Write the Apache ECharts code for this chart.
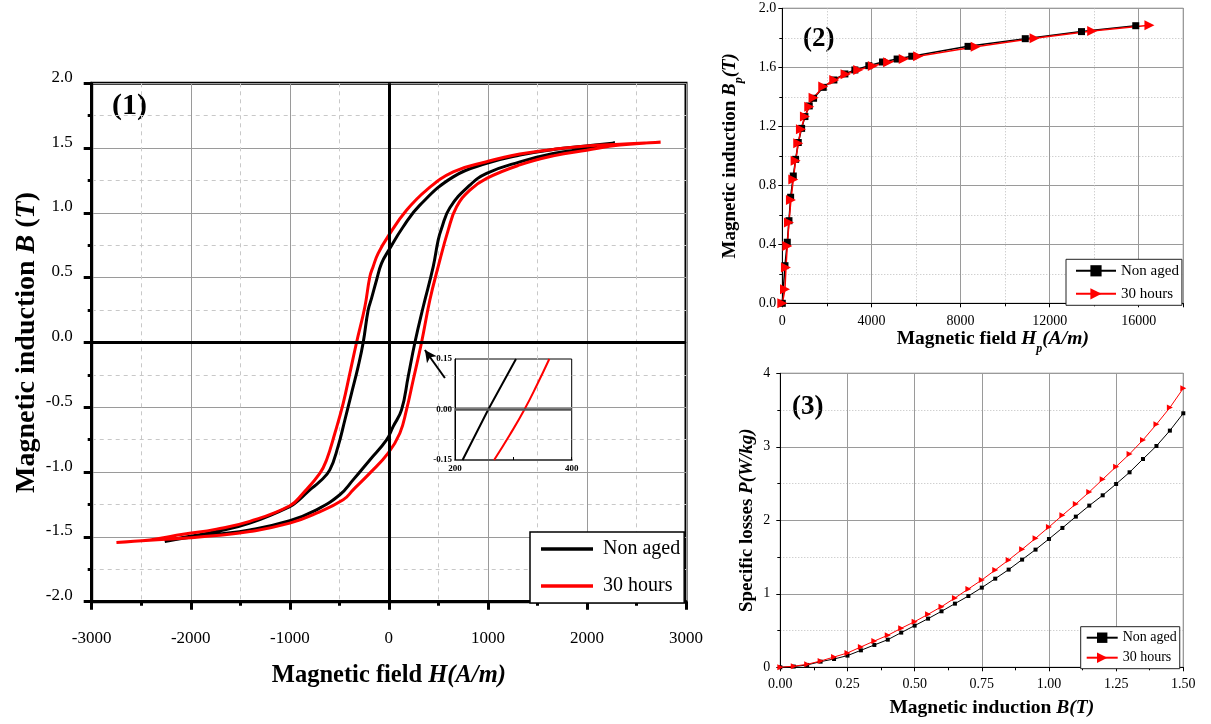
<!DOCTYPE html>
<html>
<head>
<meta charset="utf-8">
<script src="https://cdn.jsdelivr.net/npm/echarts@6/dist/echarts.min.js"></script>
<style>
html,body{margin:0;padding:0;background:#fff;}
#c{width:1211px;height:724px;}
</style>
</head>
<body>
<div id="c"></div>
<script>
// ---------- Panel (1): hysteresis loops ----------
const nonAgedUpperH = [2283, 1997, 1660, 1323, 987, 650, 313, 145, 0, -74, -124, -175, -209, -259, -310, -377, -444, -512, -596, -697, -798, -900, -1000, -1404, -1740, -2078, -2263];
const nonAgedUpperB = [1.54, 1.517, 1.49, 1.446, 1.382, 1.278, 1.06, 0.893, 0.713, 0.61, 0.482, 0.34, 0.25, 0, -0.186, -0.392, -0.598, -0.80, -0.983, -1.073, -1.137, -1.21, -1.266, -1.394, -1.459, -1.505, -1.536];
const nonAgedLowerH = [-2263, -2078, -1740, -1404, -1000, -730, -495, -361, -192, -23, 43, 128, 195, 263, 347, 448, 498, 532, 616, 818, 987, 1323, 1660, 1997, 2283];
const nonAgedLowerB = [-1.536, -1.51, -1.48, -1.446, -1.375, -1.291, -1.175, -1.06, -0.906, -0.752, -0.649, -0.52, -0.264, 0, 0.276, 0.585, 0.79, 0.88, 1.04, 1.214, 1.305, 1.394, 1.459, 1.497, 1.54];

const aged30UpperH = [2744, 2333, 1997, 1660, 1323, 987, 650, 380, 178, 0, -108, -159, -192, -242, -326, -394, -461, -545, -629, -697, -866, -1000, -1404, -1740, -2078, -2414, -2750];
const aged30UpperB = [1.545, 1.53, 1.517, 1.49, 1.454, 1.395, 1.317, 1.176, 1.02, 0.829, 0.688, 0.585, 0.507, 0.276, 0, -0.238, -0.469, -0.70, -0.906, -1.01, -1.163, -1.26, -1.38, -1.44, -1.48, -1.523, -1.544];
const aged30LowerH = [-2750, -2414, -2078, -1740, -1404, -1000, -730, -461, -361, -192, -7, 111, 178, 246, 330, 414, 498, 599, 684, 818, 987, 1323, 1660, 1997, 2333, 2744];
const aged30LowerB = [-1.544, -1.525, -1.51, -1.49, -1.459, -1.394, -1.317, -1.214, -1.137, -1.008, -0.854, -0.70, -0.52, -0.289, 0, 0.328, 0.585, 0.867, 1.047, 1.176, 1.266, 1.37, 1.44, 1.484, 1.523, 1.545];

// inset (zoom of coercive field region)
const insetNonAgedH = [213, 257, 304.5];
const insetNonAgedB = [-0.15, 0, 0.15];
const insetAgedH = [267, 294, 319, 341, 361.6];
const insetAgedB = [-0.15, -0.075, 0, 0.075, 0.15];
// arrow annotation (data coords of panel 1): tail, head
const arrowH = [566, 364];
const arrowB = [-0.274, -0.058];

// ---------- Panel (2): magnetization curves ----------
const p2NonAgedH = [0, 120, 224, 299, 374, 493, 598, 717, 867, 1016, 1210, 1404, 1838, 2316, 2809, 3257, 3884, 4497, 5154, 5812, 8337, 10906, 13431, 15866];
const p2NonAgedB = [0, 0.255, 0.414, 0.56, 0.719, 0.863, 0.976, 1.09, 1.186, 1.266, 1.338, 1.39, 1.464, 1.514, 1.555, 1.582, 1.611, 1.636, 1.656, 1.675, 1.742, 1.794, 1.842, 1.882];
const p2AgedH = [0, 120, 164, 224, 299, 388, 493, 598, 717, 837, 1016, 1210, 1404, 1838, 2331, 2839, 3406, 4064, 4751, 5453, 6096, 8680, 11324, 13909, 16479];
const p2AgedB = [0, 0.095, 0.242, 0.389, 0.547, 0.70, 0.84, 0.967, 1.085, 1.18, 1.266, 1.333, 1.394, 1.469, 1.514, 1.553, 1.582, 1.609, 1.634, 1.656, 1.675, 1.74, 1.797, 1.846, 1.885];

// ---------- Panel (3): specific losses ----------
const p3B = [0, 0.05, 0.10, 0.15, 0.20, 0.25, 0.30, 0.35, 0.40, 0.45, 0.50, 0.55, 0.60, 0.65, 0.70, 0.75, 0.80, 0.85, 0.90, 0.95, 1.00, 1.05, 1.10, 1.15, 1.20, 1.25, 1.30, 1.35, 1.40, 1.45, 1.50];
const p3NonAged = [0, 0.01, 0.032, 0.077, 0.113, 0.159, 0.231, 0.304, 0.376, 0.472, 0.567, 0.662, 0.762, 0.866, 0.97, 1.084, 1.206, 1.329, 1.465, 1.601, 1.746, 1.896, 2.05, 2.2, 2.34, 2.494, 2.653, 2.834, 3.011, 3.22, 3.456];
const p3Aged = [0, 0.015, 0.041, 0.086, 0.14, 0.195, 0.277, 0.358, 0.435, 0.531, 0.621, 0.721, 0.825, 0.943, 1.066, 1.188, 1.324, 1.46, 1.605, 1.755, 1.909, 2.068, 2.222, 2.385, 2.558, 2.73, 2.902, 3.093, 3.306, 3.533, 3.796];

const LEGEND_LABELS = {na1: 'Non aged', h1: '30 hours', na2: 'Non aged', h2: '30 hours', na3: 'Non aged', h3: '30 hours'};

function zip(a, b) { return a.map((v, i) => [v, b[i]]); }
function loop(uh, ub, lh, lb) { return zip(uh, ub).concat(zip(lh, lb).slice(1)); }

const FONT = "'Liberation Serif', 'Times New Roman', serif";

function richStyles(size, sub) {
  const base = {fontFamily: FONT, fontWeight: 'bold', fontSize: size, color: '#000'};
  const r = {
    b: Object.assign({}, base),
    bi: Object.assign({}, base, {fontStyle: 'italic'}),
  };
  if (sub) {
    r.b.lineHeight = size; r.b.padding = [0, 0, 6, 0]; r.b.verticalAlign = 'bottom';
    r.bi.lineHeight = size; r.bi.padding = [0, 0, 6, 0]; r.bi.verticalAlign = 'bottom';
    r.sub = Object.assign({}, base, {fontStyle: 'italic', fontSize: 12, lineHeight: 12, verticalAlign: 'bottom'});
  }
  return r;
}

const chart = echarts.init(document.getElementById('c'), null, {renderer: 'canvas'});

const p1Tick = {show: true, inside: false, length: 8, lineStyle: {color: '#000', width: 3}};
const p1Minor = {show: true, splitNumber: 2, length: 4, lineStyle: {color: '#000', width: 3}};
const smallTick = {show: true, inside: false, length: 4, lineStyle: {color: '#000', width: 1}};
const smallMinor = {show: true, splitNumber: 2, length: 3, lineStyle: {color: '#000', width: 1}};
const majorSplit = {show: true, lineStyle: {color: '#9a9a9a', width: 1, type: 'solid'}};
const minorSplitDash = {show: true, lineStyle: {color: '#c8c8c8', width: 1, type: [4, 4]}};
const minorSplitDot = {show: true, lineStyle: {color: '#bdbdbd', width: 1, type: [1, 2]}};
const plain = v => String(v);

const option = {
  animation: false,
  backgroundColor: '#fff',
  textStyle: {fontFamily: FONT},
  grid: [
    {left: 91.7, top: 83.3, width: 594.3, height: 518.4, show: true, borderColor: '#000', borderWidth: 3, backgroundColor: 'transparent'},
    {left: 455, top: 359, width: 116.7, height: 101, show: true, borderColor: '#000', borderWidth: 1, backgroundColor: 'transparent'},
    {left: 782.3, top: 8.3, width: 401, height: 295, show: true, borderColor: '#555', borderWidth: 1, backgroundColor: 'transparent'},
    {left: 780.3, top: 373.3, width: 403, height: 294, show: true, borderColor: '#555', borderWidth: 1, backgroundColor: 'transparent'}
  ],
  xAxis: [
    {gridIndex: 0, type: 'value', min: -3000, max: 3000, interval: 1000,
     axisLine: {show: true, onZero: false, lineStyle: {color: '#000', width: 3}},
     axisTick: p1Tick, minorTick: p1Minor, splitLine: majorSplit, minorSplitLine: minorSplitDash,
     axisLabel: {color: '#000', fontSize: 17, fontFamily: FONT, margin: 28, formatter: plain},
     name: '{b|Magnetic field }{bi|H(A/m)}', nameLocation: 'middle', nameGap: 61,
     nameTextStyle: {rich: richStyles(24.5, false)}},
    {gridIndex: 1, type: 'value', min: 200, max: 400, interval: 100,
     axisLine: {show: true, onZero: false, lineStyle: {color: '#555', width: 2}},
     axisTick: {show: true, inside: true, length: 3, lineStyle: {color: '#000'}},
     splitLine: {show: false},
     axisLabel: {color: '#000', fontSize: 9, fontWeight: 'bold', fontFamily: FONT, margin: 4,
       formatter: v => (v === 300 ? '' : String(v))}},
    {gridIndex: 2, type: 'value', min: 0, max: 18000, interval: 4000,
     axisLine: {show: true, onZero: false, lineStyle: {color: '#000', width: 1}},
     axisTick: smallTick, minorTick: smallMinor, splitLine: majorSplit, minorSplitLine: minorSplitDot,
     axisLabel: {color: '#000', fontSize: 14, fontFamily: FONT, margin: 11, showMaxLabel: false, formatter: plain},
     name: '{b|Magnetic field }{bi|H}{sub|p}{bi|(A/m)}', nameLocation: 'middle', nameGap: 31,
     nameTextStyle: {rich: richStyles(19.5, true), padding: [0, 0, 0, 20]}},
    {gridIndex: 3, type: 'value', min: 0, max: 1.5, interval: 0.25,
     axisLine: {show: true, onZero: false, lineStyle: {color: '#000', width: 1}},
     axisTick: smallTick, minorTick: smallMinor, splitLine: majorSplit, minorSplitLine: {show: false},
     axisLabel: {color: '#000', fontSize: 14, fontFamily: FONT, margin: 10, formatter: v => v.toFixed(2)},
     name: '{b|Magnetic induction }{bi|B(T)}', nameLocation: 'middle', nameGap: 31,
     nameTextStyle: {rich: richStyles(19.5, false), padding: [0, 0, 0, 20]}}
  ],
  yAxis: [
    {gridIndex: 0, type: 'value', min: -2, max: 2, interval: 0.5,
     axisLine: {show: true, onZero: false, lineStyle: {color: '#000', width: 3}},
     axisTick: p1Tick, minorTick: p1Minor, splitLine: majorSplit, minorSplitLine: minorSplitDash,
     axisLabel: {color: '#000', fontSize: 17, fontFamily: FONT, margin: 19, verticalAlign: 'bottom', lineHeight: 12, formatter: v => v.toFixed(1)},
     name: '{b|Magnetic induction }{bi|B}{b| (}{bi|T}{b|)}', nameLocation: 'middle', nameGap: 51,
     nameTextStyle: {rich: richStyles(28, false)}},
    {gridIndex: 1, type: 'value', min: -0.15, max: 0.15, interval: 0.15,
     axisLine: {show: true, onZero: false, lineStyle: {color: '#000', width: 1}},
     axisTick: {show: false}, splitLine: {show: false},
     axisLabel: {color: '#000', fontSize: 9, fontWeight: 'bold', fontFamily: FONT, margin: 3, formatter: v => v.toFixed(2)}},
    {gridIndex: 2, type: 'value', min: 0, max: 2, interval: 0.4,
     axisLine: {show: true, onZero: false, lineStyle: {color: '#000', width: 1}},
     axisTick: smallTick, minorTick: smallMinor, splitLine: majorSplit, minorSplitLine: minorSplitDot,
     axisLabel: {color: '#000', fontSize: 14, fontFamily: FONT, margin: 6, formatter: v => v.toFixed(1)},
     name: '{b|Magnetic induction }{bi|B}{sub|p}{bi|(T)}', nameLocation: 'middle', nameGap: 37,
     nameTextStyle: {rich: richStyles(19, true)}},
    {gridIndex: 3, type: 'value', min: 0, max: 4, interval: 1,
     axisLine: {show: true, onZero: false, lineStyle: {color: '#000', width: 1}},
     axisTick: smallTick, minorTick: smallMinor, splitLine: majorSplit, minorSplitLine: minorSplitDot,
     axisLabel: {color: '#000', fontSize: 14, fontFamily: FONT, margin: 10},
     name: '{b|Specific losses }{bi|P(W/kg)}', nameLocation: 'middle', nameGap: 24,
     nameTextStyle: {rich: richStyles(19, false)}}
  ],
  legend: [
    {data: ['na1', 'h1'], left: 530, top: 532, orient: 'vertical', selectedMode: false, icon: 'rect',
     formatter: n => LEGEND_LABELS[n], itemWidth: 52, itemHeight: 3.5, itemGap: 15,
     padding: [6, 4, 6, 11], borderColor: '#000', borderWidth: 1.5, backgroundColor: '#fff',
     textStyle: {fontFamily: FONT, fontSize: 20, lineHeight: 22, color: '#000', padding: [0, 0, 0, 5]}},
    {data: ['na2', 'h2'], left: 1066, top: 259.3, orient: 'vertical', selectedMode: false,
     formatter: n => LEGEND_LABELS[n], itemWidth: 40, itemHeight: 14, itemGap: 8,
     padding: [4, 3, 4, 9], borderColor: '#222', borderWidth: 1, backgroundColor: '#fff',
     textStyle: {fontFamily: FONT, fontSize: 15, color: '#000'}},
    {data: ['na3', 'h3'], left: 1080.7, top: 626.7, orient: 'vertical', selectedMode: false,
     formatter: n => LEGEND_LABELS[n], itemWidth: 31, itemHeight: 13, itemGap: 6,
     padding: [4, 3, 4, 5], borderColor: '#222', borderWidth: 1, backgroundColor: '#fff',
     textStyle: {fontFamily: FONT, fontSize: 14, color: '#000'}}
  ],
  graphic: [
    {type: 'text', left: 112, top: 91, style: {text: '(1)', font: 'bold 30px ' + FONT, fill: '#000'}},
    {type: 'text', left: 803, top: 26, style: {text: '(2)', font: 'bold 27px ' + FONT, fill: '#000'}},
    {type: 'text', left: 792, top: 394, style: {text: '(3)', font: 'bold 27px ' + FONT, fill: '#000'}}
  ],
  series: [
    {name: 'zeroAxes', type: 'line', xAxisIndex: 0, yAxisIndex: 0, data: [], silent: true,
     markLine: {silent: true, symbol: 'none', label: {show: false}, animation: false,
       lineStyle: {color: '#000', width: 3, type: 'solid'},
       data: [{xAxis: 0}, {yAxis: 0}]}},
    {name: 'na1', type: 'line', xAxisIndex: 0, yAxisIndex: 0, symbol: 'none', smooth: 0.45,
     data: loop(nonAgedUpperH, nonAgedUpperB, nonAgedLowerH, nonAgedLowerB),
     lineStyle: {color: '#000', width: 3}, itemStyle: {color: '#000'}},
    {name: 'h1', type: 'line', xAxisIndex: 0, yAxisIndex: 0, symbol: 'none', smooth: 0.45,
     data: loop(aged30UpperH, aged30UpperB, aged30LowerH, aged30LowerB),
     lineStyle: {color: '#ff0000', width: 3}, itemStyle: {color: '#ff0000'}},
    {name: 'arrow', type: 'line', xAxisIndex: 0, yAxisIndex: 0, data: [], silent: true,
     markLine: {silent: true, symbol: ['none', 'arrow'], symbolSize: [9, 12], label: {show: false}, animation: false,
       lineStyle: {color: '#000', width: 2, type: 'solid'},
       data: [[{coord: [arrowH[0], arrowB[0]]}, {coord: [arrowH[1], arrowB[1]]}]]}},
    {name: 'insetNonAged', type: 'line', xAxisIndex: 1, yAxisIndex: 1, symbol: 'none',
     data: zip(insetNonAgedH, insetNonAgedB), lineStyle: {color: '#000', width: 2},
     markLine: {silent: true, symbol: 'none', label: {show: false}, animation: false,
       lineStyle: {color: '#555', width: 2.5, type: 'solid'}, data: [{yAxis: 0}]}},
    {name: 'insetAged', type: 'line', xAxisIndex: 1, yAxisIndex: 1, symbol: 'none', smooth: 0.5,
     data: zip(insetAgedH, insetAgedB), lineStyle: {color: '#ff0000', width: 2}},
    {name: 'na2', type: 'line', xAxisIndex: 2, yAxisIndex: 2, symbol: 'rect', symbolSize: 7,
     data: zip(p2NonAgedH, p2NonAgedB), lineStyle: {color: '#000', width: 1.5}, itemStyle: {color: '#000'}},
    {name: 'h2', type: 'line', xAxisIndex: 2, yAxisIndex: 2, symbol: 'triangle', symbolSize: 10, symbolRotate: -90,
     data: zip(p2AgedH, p2AgedB), lineStyle: {color: '#ff0000', width: 1.5}, itemStyle: {color: '#ff0000'}},
    {name: 'na3', type: 'line', xAxisIndex: 3, yAxisIndex: 3, symbol: 'rect', symbolSize: 4,
     data: zip(p3B, p3NonAged), lineStyle: {color: '#000', width: 1}, itemStyle: {color: '#000'}},
    {name: 'h3', type: 'line', xAxisIndex: 3, yAxisIndex: 3, symbol: 'triangle', symbolSize: 6, symbolRotate: -90,
     data: zip(p3B, p3Aged), lineStyle: {color: '#ff0000', width: 1}, itemStyle: {color: '#ff0000'}}
  ]
};
chart.setOption(option);
</script>
</body>
</html>
